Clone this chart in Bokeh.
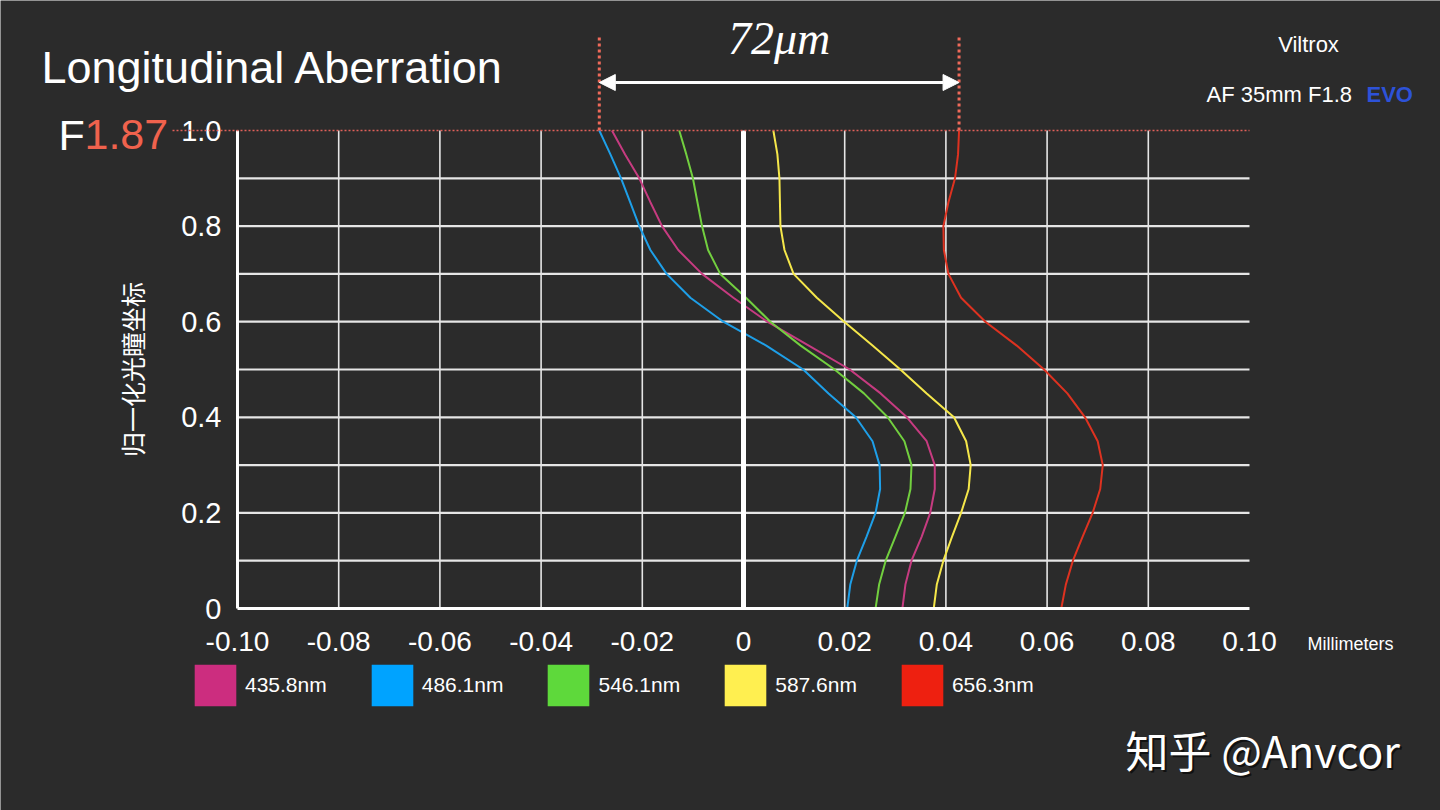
from bokeh.plotting import figure
from bokeh.models import (FixedTicker, CustomJSTickFormatter, Arrow, NormalHead,
                          Label, Legend, LegendItem, Range1d)
from bokeh.embed import file_html
from bokeh.resources import INLINE

# ---------------- data ----------------
pupil = [0.00, 0.05, 0.10, 0.15, 0.20, 0.25, 0.30, 0.35, 0.40, 0.45, 0.50,
         0.55, 0.60, 0.65, 0.70, 0.75, 0.80, 0.85, 0.90, 0.95, 1.00]

wl_4358 = [0.0314, 0.0320, 0.0332, 0.0352, 0.0369, 0.0378, 0.0378, 0.0362, 0.0323, 0.0271, 0.0210,
           0.0129, 0.0047, -0.0020, -0.0082, -0.0129, -0.0161, -0.0184, -0.0206, -0.0234, -0.0260]
wl_4861 = [0.0205, 0.0211, 0.0224, 0.0243, 0.0261, 0.0270, 0.0269, 0.0255, 0.0222, 0.0168, 0.0118,
           0.0045, -0.0040, -0.0105, -0.0152, -0.0184, -0.0206, -0.0224, -0.0242, -0.0263, -0.0285]
wl_5461 = [0.0261, 0.0268, 0.0281, 0.0300, 0.0319, 0.0330, 0.0332, 0.0318, 0.0285, 0.0238, 0.0180,
           0.0113, 0.0053, 0.0005, -0.0046, -0.0070, -0.0082, -0.0091, -0.0100, -0.0113, -0.0127]
wl_5876 = [0.0376, 0.0382, 0.0395, 0.0412, 0.0430, 0.0445, 0.0449, 0.0440, 0.0416, 0.0362, 0.0310,
           0.0255, 0.0199, 0.0145, 0.0099, 0.0081, 0.0073, 0.0072, 0.0071, 0.0067, 0.0059]
wl_6563 = [0.0628, 0.0637, 0.0651, 0.0670, 0.0690, 0.0705, 0.0710, 0.0700, 0.0675, 0.0640, 0.0594,
           0.0540, 0.0478, 0.0430, 0.0405, 0.0396, 0.0395, 0.0405, 0.0418, 0.0424, 0.0426]

series_labels = ["435.8nm", "486.1nm", "546.1nm", "587.6nm", "656.3nm"]
series_values = [wl_4358, wl_4861, wl_5461, wl_5876, wl_6563]
line_colors = ["#C63B80", "#1E9FE8", "#72CF3F", "#F5E74A", "#DE3220"]
swatch_colors = ["#CC2D7F", "#00A3FF", "#5ED93B", "#FFEF50", "#EE2010"]

x_ticks = [-0.10, -0.08, -0.06, -0.04, -0.02, 0.0, 0.02, 0.04, 0.06, 0.08, 0.10]
y_ticks = [0.0, 0.2, 0.4, 0.6, 0.8, 1.0]
x_grid = [-0.08, -0.06, -0.04, -0.02, 0.02, 0.04, 0.06, 0.08]
y_grid = [0.1, 0.2, 0.3, 0.4, 0.5, 0.6, 0.7, 0.8, 0.9]
x_limits = [-0.10, 0.10]
y_limits = [0.0, 1.0]
zero_line = [0.0]
swatch_placeholder = [float("nan")]   # legend-only renderers draw nothing in the plot

BG = "#2B2B2B"
SANS = "Liberation Sans"


# picture-pixel -> data helpers (plot area: x 237..1249, y 130..608)
def dx(px):
    return (px - 743) / 5060.0


def dy(py):
    return (608 - py) / 478.0


p = figure(width=1440, height=810, title=None,
           x_range=Range1d(dx(0), dx(1440)), y_range=Range1d(dy(810), dy(0)),
           output_backend="svg", toolbar_location=None, min_border=0,
           min_border_left=0, min_border_right=0, min_border_top=0, min_border_bottom=0,
           background_fill_color=BG, border_fill_color=BG, outline_line_color=None)
p.grid.visible = False

# ---------------- axes (fixed inside the canvas) ----------------
for ax in (p.xaxis, p.yaxis):
    ax.axis_line_color = "white"
    ax.axis_line_width = 3
    ax.major_tick_line_color = None
    ax.minor_tick_line_color = None
    ax.major_label_text_color = "white"
    ax.major_label_text_font = SANS
    ax.major_label_text_font_size = "28px"

p.xaxis.fixed_location = y_limits[0]
p.xaxis.bounds = tuple(x_limits)
p.xaxis.ticker = FixedTicker(ticks=x_ticks)
p.xaxis.formatter = CustomJSTickFormatter(
    code='return Math.abs(tick) < 1e-9 ? "0" : tick.toFixed(2);')
p.xaxis.major_label_standoff = 17

p.yaxis.fixed_location = x_limits[0]
p.yaxis.bounds = tuple(y_limits)
p.yaxis.ticker = FixedTicker(ticks=y_ticks)
p.yaxis.formatter = CustomJSTickFormatter(
    code='return Math.abs(tick) < 1e-9 ? "0" : tick.toFixed(1);')
p.yaxis.major_label_text_font_size = "29px"
p.yaxis.major_label_standoff = 10
p.yaxis.axis_label = "归一化光瞳坐标"
p.yaxis.axis_label_text_font = "Noto Sans CJK SC"
p.yaxis.axis_label_text_font_style = "normal"
p.yaxis.axis_label_text_font_size = "25px"
p.yaxis.axis_label_text_color = "white"
p.yaxis.axis_label_standoff = 28

# ---------------- grid lines (bounded to the plot area) ----------------
p.segment(x0=x_grid, y0=[y_limits[0]] * len(x_grid), x1=x_grid, y1=[y_limits[1]] * len(x_grid),
          line_color="#E6E6E6", line_width=1.6)
p.segment(x0=[x_limits[0]] * len(y_grid), y0=y_grid, x1=[x_limits[1]] * len(y_grid), y1=y_grid,
          line_color="#E6E6E6", line_width=2.2)

# ---------------- curves ----------------
for vals, col in zip(series_values, line_colors):
    p.line(vals, pupil, line_color=col, line_width=2)

# thick zero line on top of the curves
p.segment(x0=zero_line, y0=[y_limits[0]], x1=zero_line, y1=[y_limits[1]],
          line_color="white", line_width=5)

# ---------------- legend with square swatches ----------------
items = []
for lab, col in zip(series_labels, swatch_colors):
    r = p.quad(left=swatch_placeholder, right=swatch_placeholder,
               top=swatch_placeholder, bottom=swatch_placeholder,
               fill_color=col, line_color=None)
    items.append(LegendItem(label=lab, renderers=[r]))
legend = Legend(items=items, orientation="horizontal", location=(189, 99),
                glyph_width=52, glyph_height=52, label_standoff=4, spacing=39,
                padding=0, margin=0, background_fill_alpha=0, border_line_color=None,
                label_text_color="white", label_text_font=SANS, label_text_font_size="21px")
p.add_layout(legend)

# ---------------- 72 µm span markers ----------------
x_left = min(v[-1] for v in series_values)
x_right = max(v[-1] for v in series_values)
for xv in (x_left, x_right):
    p.add_layout(Arrow(end=None, x_start=xv, y_start=y_limits[1], x_end=xv, y_end=dy(35),
                       line_color="#F06A5A", line_width=3, line_dash="3 3"))
p.add_layout(Arrow(start=NormalHead(size=16, fill_color="white", line_color="white"),
                   end=NormalHead(size=16, fill_color="white", line_color="white"),
                   x_start=x_left, y_start=dy(82), x_end=x_right, y_end=dy(82),
                   line_color="white", line_width=3))

# dotted F-number line at pupil 1.0
p.add_layout(Arrow(end=None, x_start=dx(172), y_start=y_limits[1], x_end=x_limits[1],
                   y_end=y_limits[1], line_color="#E0605A", line_width=1.5, line_dash="2 2"))


def label(text, px, py, size, color="white", font=SANS, align="left", style="normal", **kw):
    p.add_layout(Label(x=dx(px), y=dy(py), text=text, text_font_size=f"{size}px",
                       text_color=color, text_font=font, text_align=align,
                       text_baseline="middle", text_font_style=style, **kw))


label("72μm", (743 + 5060 * (x_left + x_right) / 2), 38, 46, font="Liberation Serif",
      align="center", style="italic")
label("Longitudinal Aberration", 41, 67, 45)
label("F", 58, 134, 43)
label("1.87", 84, 134, 43, color="#F0624D")
label("Viltrox", 1308, 44, 22, align="center")
label("AF 35mm F1.8", 1206, 94, 22)
label("EVO", 1366, 94, 22, color="#2D52D8", style="bold")
label("Millimeters", 1307, 643, 18)
label("知乎 @Anvcor", 1125, 748, 43, color="black", font="Noto Sans CJK SC",
      x_offset=2, y_offset=-2, text_alpha=0.6)
label("知乎 @Anvcor", 1125, 748, 43, font="Noto Sans CJK SC")

open("out.html", "w").write(file_html(p, INLINE))
